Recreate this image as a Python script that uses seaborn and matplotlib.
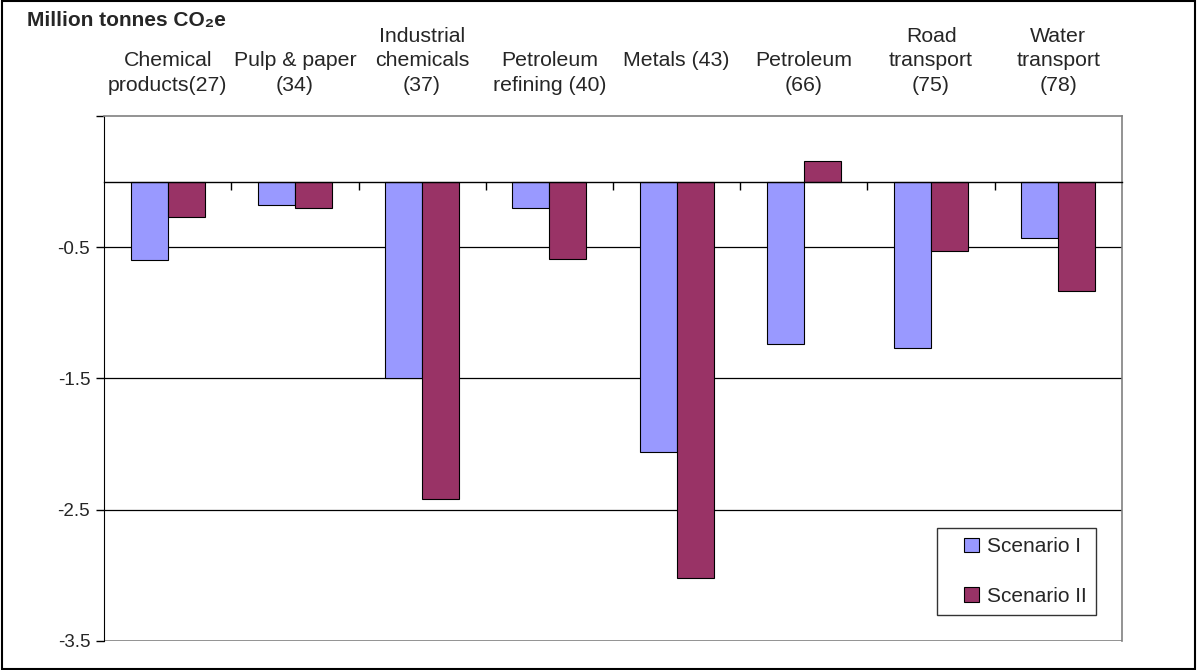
import pandas as pd
import seaborn as sns
import matplotlib.pyplot as plt
import matplotlib.patches as mpatches
from matplotlib.legend_handler import HandlerPatch
from matplotlib.ticker import FixedLocator

# data
sectors = ["Chemical\nproducts(27)", "Pulp & paper\n(34)", "Industrial\nchemicals\n(37)",
           "Petroleum\nrefining (40)", "Metals (43)\n ", "Petroleum\n(66)",
           "Road\ntransport\n(75)", "Water\ntransport\n(78)"]
scenario_1 = [-0.60, -0.18, -1.50, -0.20, -2.06, -1.24, -1.27, -0.43]
scenario_2 = [-0.27, -0.20, -2.42, -0.59, -3.02, 0.16, -0.53, -0.83]
yticks = [0.5, -0.5, -1.5, -2.5, -3.5]
ytick_labels = ["", "-0.5", "-1.5", "-2.5", "-3.5"]

df = pd.DataFrame({
    "Sector": sectors * 2,
    "Value": scenario_1 + scenario_2,
    "Scenario": ["Scenario I"] * len(sectors) + ["Scenario II"] * len(sectors),
})

sns.set_style("white")
plt.rcParams["font.family"] = ["Liberation Sans", "DejaVu Sans"]

fig = plt.figure(figsize=(11.97, 6.70), dpi=100)
ax = fig.add_axes([0.0869, 0.0433, 0.8504, 0.7836])

sns.barplot(data=df, x="Sector", y="Value", hue="Scenario",
            palette=["#9999FF", "#993366"], width=0.58,
            edgecolor="black", linewidth=0.8, saturation=1, ax=ax)

ax.set_ylim(-3.5, 0.5)
ax.set_xlim(-0.5, len(sectors) - 0.5)
ax.set_yticks(yticks)
ax.set_yticklabels(ytick_labels, fontsize=13.5)
ax.set_xlabel("")
ax.set_ylabel("")

# horizontal lines
for y in yticks[1:-1]:
    ax.axhline(y, color="black", lw=0.9, zorder=0)
ax.axhline(-3.5, color="#808080", lw=1.2, zorder=0)

# zero axis with category separator ticks
ax.spines["bottom"].set_position(("data", 0))
ax.spines["bottom"].set_color("black")
ax.spines["bottom"].set_linewidth(1.0)
ax.xaxis.set_major_locator(FixedLocator([i + 0.5 for i in range(len(sectors) - 1)]))
ax.set_xticklabels([])
ax.tick_params(axis="x", direction="out", length=6, width=1, color="black", bottom=True)
ax.tick_params(axis="y", direction="out", length=6, width=1, color="black", left=True, pad=4)
ax.spines["left"].set_color("black")
ax.spines["top"].set_color("#808080")
ax.spines["right"].set_color("#808080")
ax.spines["top"].set_linewidth(1.2)
ax.spines["right"].set_linewidth(1.2)

# category labels above the plot
for i, s in enumerate(sectors):
    ax.text(i, 1.04, s, transform=ax.get_xaxis_transform(), ha="center",
            va="bottom", multialignment="center", fontsize=15.3, linespacing=1.38)

fig.text(0.0225, 0.984, "Million tonnes CO₂e", fontsize=15, fontweight="bold",
         ha="left", va="top")


# small square legend keys sitting at the right of the handle box
def square_key(legend, orig_handle, xdescent, ydescent, width, height, fontsize):
    return mpatches.Rectangle((width - height - xdescent, -ydescent), height, height)


leg = ax.legend(loc="lower right", bbox_to_anchor=(0.975, 0.0495), fontsize=15,
                frameon=True, fancybox=False, edgecolor="black", handlelength=1.58,
                handleheight=0.7, handletextpad=0.4, labelspacing=1.45,
                borderpad=0.45, borderaxespad=0,
                handler_map={mpatches.Rectangle: HandlerPatch(patch_func=square_key)})
leg.get_frame().set_linewidth(1.0)

fig.add_artist(plt.Rectangle((0.002, 0.002), 0.996, 0.996, transform=fig.transFigure,
                             fill=False, lw=1.5, ec="black"))

fig.savefig("out.png", dpi=100)
